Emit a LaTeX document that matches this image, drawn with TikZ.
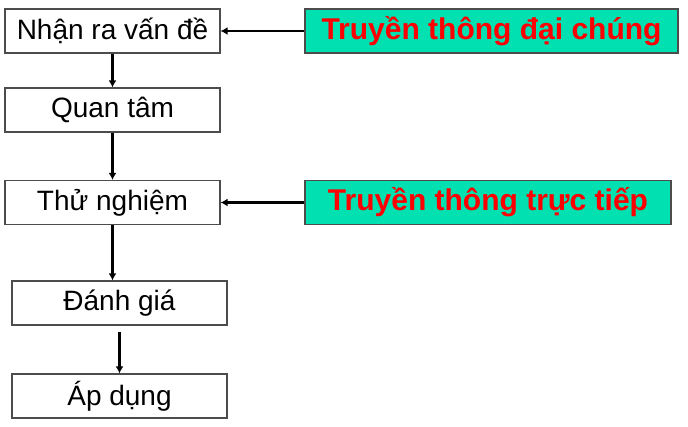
\documentclass[tikz,border=0pt]{standalone}
\usepackage{fontspec}
\setmainfont{Liberation Sans}
\usepackage{xcolor}
\usepackage{tikz}
\usetikzlibrary{positioning,calc,arrows.meta}
\definecolor{boxgreen}{RGB}{0,224,176}
\tikzstyle{stage}= [rectangle, draw=black!70, line width=1.2pt, fill=white, minimum width=215pt, minimum height=44pt, inner sep=0pt, font=\fontsize{28}{30}\selectfont]
\tikzstyle{media}= [rectangle, draw=black!70, line width=1.2pt, fill=boxgreen, minimum height=44pt, inner sep=0pt, text=red, font=\fontsize{30}{32}\selectfont\bfseries]
\tikzstyle{arr}= [line width=2.6pt, -{Latex[length=7pt,width=8pt]}]

\begin{document}
\begin{tikzpicture}[x=1pt,y=-1pt]
				\useasboundingbox (0,0) rectangle (688,426);
				\node[stage] (n1) at (112.5, 31) {Nhận ra vấn đề};
				\node[stage] (n2) at (112.5, 110) {Quan tâm};
				\node[stage] (n3) at (112.5, 202.5) {Thử nghiệm};
				\node[stage] (n4) at (119.5, 303) {Đánh giá};
				\node[stage] (n5) at (119.5, 396) {Áp dụng};
				
				\node[media, minimum width=373pt] (g1) at (491.5, 31) {Truyền thông đại chúng};
				\node[media, minimum width=366pt] (g2) at (488, 202.5) {Truyền thông trực tiếp};
				
				\draw[arr] (n1.south) -- (n2.north);
				\draw[arr] (n2.south) -- (n3.north);
				\draw[arr] (n3.south) -- (n3.south |- n4.north);
				\draw[arr] ([yshift=-6pt]n4.south) -- (n5.north);
				\draw[arr] (g1.west) -- (n1.east);
				\draw[arr] (g2.west) -- (n3.east);
			\end{tikzpicture}
\end{document}
